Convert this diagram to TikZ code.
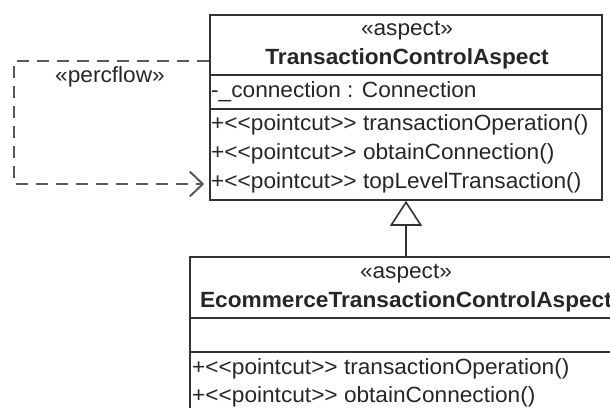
\documentclass[tikz,border=0pt]{standalone}
\usepackage{fontspec}
\setmainfont[FakeStretch=1.03]{Liberation Sans}
\usetikzlibrary{arrows.meta}
% stereotype brackets typed as two separate characters
\newcommand{\stopen}{<\kern0pt<}
\newcommand{\stclose}{>\kern0pt>}
\begin{document}
\begin{tikzpicture}[x=1pt,y=-1pt,
  umlbox/.style={draw=black!80, line width=1.6pt, rectangle, inner sep=0pt},
  sep/.style={draw=black!80, line width=1.6pt},
  txt/.style={inner sep=0pt, text=black!85, font=\fontsize{22}{26}\selectfont},
  member/.style={txt, anchor=base west},
  heading/.style={txt, anchor=base},
  inherit/.style={draw=black!80, line width=1.6pt, -{Triangle[open,length=25pt,width=32pt,line width=1.6pt]}},
  flowdep/.style={draw=black!65, line width=2.2pt, dash pattern=on 12pt off 8pt,
    -{Straight Barb[length=13pt,width=25pt,line width=2pt]}, shorten >=5pt}]
\useasboundingbox (0,0) rectangle (610,407);
\clip (0,0) rectangle (610,407);

% super aspect
\node[umlbox, minimum width=392pt, minimum height=185pt] (tca) at (406,107.5) {};
\draw[sep] (210,75) -- (602,75);
\draw[sep] (210,109) -- (602,109);
\node[heading] (tcaSt) at (407,35) {«aspect»};
\node[heading, font=\fontsize{22}{26}\selectfont\bfseries] (tcaName) at (407,64) {TransactionControlAspect};
\node[member] (tcaAttr) at (211,97) {-\_connection : Connection};
\node[member] (tcaM1) at (211,130) {+\stopen pointcut\stclose{} transactionOperation()};
\node[member] (tcaM2) at (211,159) {+\stopen pointcut\stclose{} obtainConnection()};
\node[member] (tcaM3) at (211,188) {+\stopen pointcut\stclose{} topLevelTransaction()};

% sub aspect
\node[umlbox, minimum width=432pt, minimum height=190pt] (etca) at (406,352) {};
\draw[sep] (190,318) -- (622,318);
\draw[sep] (190,352) -- (622,352);
\node[heading] (etcaSt) at (406,278) {«aspect»};
\node[heading, font=\fontsize{22}{26}\selectfont\bfseries] (etcaName) at (406,307) {EcommerceTransactionControlAspect};
\node[member] (etcaM1) at (192,374) {+\stopen pointcut\stclose{} transactionOperation()};
\node[member] (etcaM2) at (192,402) {+\stopen pointcut\stclose{} obtainConnection()};

% generalization
\draw[inherit] (etca.north) -- (tca.south);

% percflow dependency
\coordinate (pfTop) at (14,61);
\coordinate (pfBot) at (14,184);
\draw[flowdep] (tca.west |- pfTop) -- (pfTop) -- (pfBot) -- (tca.west |- pfBot);
\node[heading] (pfLabel) at (110,82) {«percflow»};
\end{tikzpicture}
\end{document}
